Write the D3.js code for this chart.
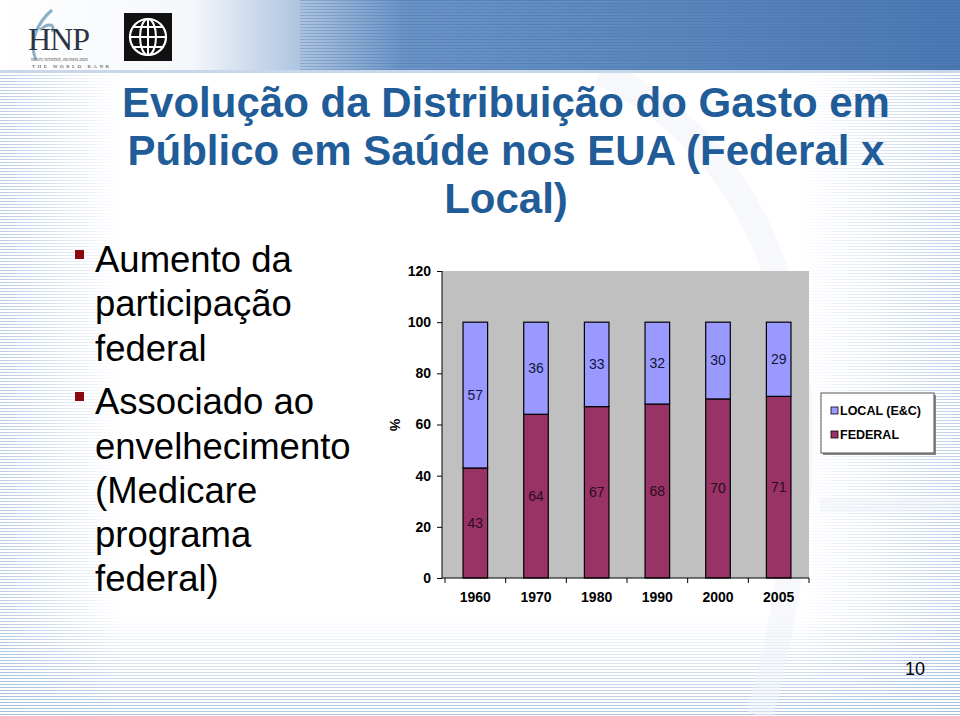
<!DOCTYPE html>
<html><head><meta charset="utf-8">
<script src="https://cdn.jsdelivr.net/npm/d3@7"></script>
<style>body{margin:0;background:#fff}svg{display:block}</style>
</head><body>
<script>
const categories = ["1960","1970","1980","1990","2000","2005"];
const federal = [43,64,67,68,70,71];
const local = [57,36,33,32,30,29];
const yTicks = [0,20,40,60,80,100,120];
const seriesNames = ["LOCAL (E&C)","FEDERAL"];
const titleLines = ["Evolução da Distribuição do Gasto em","Público em Saúde nos EUA (Federal x","Local)"];
const bullets = [["Aumento da","participação","federal"],["Associado ao","envelhecimento","(Medicare","programa","federal)"]];

const W=960,H=716;
const svg=d3.select("body").append("svg").attr("width",W).attr("height",H);
const defs=svg.append("defs");

// stripes pattern
const pat=defs.append("pattern").attr("id","stripes").attr("width",4).attr("height",3).attr("patternUnits","userSpaceOnUse");
pat.append("rect").attr("width",4).attr("height",1).attr("fill","#9fbbe0");
const fadeL=defs.append("linearGradient").attr("id","fadeL").attr("x1",0).attr("x2",1).attr("y1",0).attr("y2",0);
fadeL.append("stop").attr("offset",0).attr("stop-color","#fff").attr("stop-opacity",0.75);
fadeL.append("stop").attr("offset",1).attr("stop-color","#fff").attr("stop-opacity",0);
const maskL=defs.append("mask").attr("id","maskL");
maskL.append("rect").attr("x",0).attr("y",75).attr("width",120).attr("height",H).attr("fill","url(#fadeL)");
const fadeR=defs.append("linearGradient").attr("id","fadeR").attr("x1",0).attr("x2",1);
fadeR.append("stop").attr("offset",0).attr("stop-color","#fff").attr("stop-opacity",0);
fadeR.append("stop").attr("offset",1).attr("stop-color","#fff").attr("stop-opacity",0.7);
const maskR=defs.append("mask").attr("id","maskR");
maskR.append("rect").attr("x",800).attr("y",75).attr("width",160).attr("height",H).attr("fill","url(#fadeR)");
const fadeB=defs.append("linearGradient").attr("id","fadeB").attr("x1",0).attr("x2",0).attr("y1",0).attr("y2",1);
fadeB.append("stop").attr("offset",0).attr("stop-color","#fff").attr("stop-opacity",0);
fadeB.append("stop").attr("offset",1).attr("stop-color","#fff").attr("stop-opacity",0.85);
const maskB=defs.append("mask").attr("id","maskB");
maskB.append("rect").attr("x",0).attr("y",615).attr("width",W).attr("height",101).attr("fill","url(#fadeB)");

svg.append("rect").attr("x",0).attr("y",75).attr("width",120).attr("height",H).attr("fill","url(#stripes)").attr("mask","url(#maskL)");
svg.append("rect").attr("x",800).attr("y",75).attr("width",160).attr("height",H).attr("fill","url(#stripes)").attr("mask","url(#maskR)");
svg.append("rect").attr("x",0).attr("y",615).attr("width",W).attr("height",101).attr("fill","url(#stripes)").attr("mask","url(#maskB)");
// faint arcs watermark
svg.append("path").attr("d","M600,72 C760,150 860,330 760,716").attr("fill","none").attr("stroke","#eef2f8").attr("stroke-width",26).attr("opacity",0.55);
svg.append("path").attr("d","M820,505 L960,505").attr("stroke","#eef2f8").attr("stroke-width",14).attr("opacity",0.5);

// header
const hg=defs.append("linearGradient").attr("id","hdr").attr("x1",0).attr("x2",1);
hg.append("stop").attr("offset",0).attr("stop-color","#ffffff");
hg.append("stop").attr("offset",0.2).attr("stop-color","#f4f7fb");
hg.append("stop").attr("offset",0.42).attr("stop-color","#6a94c6");
hg.append("stop").attr("offset",1).attr("stop-color","#4a78b2");
svg.append("rect").attr("x",0).attr("y",0).attr("width",W).attr("height",72).attr("fill","url(#hdr)");
const pat2=defs.append("pattern").attr("id","hstripes").attr("width",4).attr("height",3).attr("patternUnits","userSpaceOnUse");
pat2.append("rect").attr("width",4).attr("height",1).attr("fill","#3f6ca6").attr("opacity",0.3);
svg.append("rect").attr("x",300).attr("y",0).attr("width",660).attr("height",72).attr("fill","url(#hstripes)");
svg.append("rect").attr("x",0).attr("y",70).attr("width",W).attr("height",3).attr("fill","#c9d7ea");

// HNP logo
const logo=svg.append("g");
logo.append("path").attr("d","M36,60 C28,42 38,22 52,10 M40,30 C48,22 56,24 52,32").attr("fill","none").attr("stroke","#8fb0c4").attr("stroke-width",3);
logo.append("text").attr("x",28).attr("y",50).attr("font-family","Liberation Serif, serif").attr("font-size",32).attr("fill","#2c3446").attr("letter-spacing",-1).text("HNP");
logo.append("text").attr("x",31).attr("y",61).attr("font-size",3).attr("fill","#333").text("HEALTH, NUTRITION, AND POPULATION");
logo.append("text").attr("x",32).attr("y",68).attr("font-family","Liberation Serif, serif").attr("font-size",5).attr("letter-spacing",2.5).attr("fill","#333").text("THE WORLD BANK");
// World Bank logo
const wb=svg.append("g").attr("transform","translate(148,37)");
wb.append("rect").attr("x",-24).attr("y",-24).attr("width",48).attr("height",48).attr("fill","#111");
wb.append("circle").attr("r",18).attr("fill","none").attr("stroke","#fff").attr("stroke-width",2.2);
wb.append("ellipse").attr("rx",8).attr("ry",18).attr("fill","none").attr("stroke","#fff").attr("stroke-width",2);
wb.append("line").attr("x1",0).attr("x2",0).attr("y1",-18).attr("y2",18).attr("stroke","#fff").attr("stroke-width",2);
[-10,0,10].forEach(y=>{const dx=Math.sqrt(324-y*y);wb.append("line").attr("x1",-dx).attr("x2",dx).attr("y1",y).attr("y2",y).attr("stroke","#fff").attr("stroke-width",2);});

const lf="Liberation Sans, Arial, sans-serif";
// title
svg.append("g").selectAll("text").data(titleLines).join("text")
  .attr("x",506).attr("y",(d,i)=>117+i*48).attr("text-anchor","middle")
  .attr("font-family",lf).attr("font-weight","bold").attr("font-size",42)
  .attr("fill","#1f5c98").text(d=>d);

// bullets
let by=[272,316,361,414,459,503,547,591];
let k=0;
bullets.forEach(b=>{
  svg.append("rect").attr("x",75).attr("y",by[k]-22).attr("width",9).attr("height",9).attr("fill","#8b0a10");
  b.forEach(line=>{
    svg.append("text").attr("x",95).attr("y",by[k]).attr("font-family",lf).attr("font-size",36.5).attr("fill","#000").text(line);
    k++;
  });
});

// chart
const x=d3.scaleBand().domain(categories).range([445,809]).paddingInner(0.595).paddingOuter(0.2975);
const y=d3.scaleLinear().domain([0,120]).range([578,271]);
svg.append("rect").attr("x",442).attr("y",y(120)).attr("width",809-442).attr("height",y(0)-y(120)).attr("fill","#c0c0c0");
const data=categories.map((c,i)=>({c,f:federal[i],l:local[i]}));
const g=svg.append("g");
g.selectAll(".fed").data(data).join("rect").attr("x",d=>x(d.c)).attr("width",x.bandwidth())
  .attr("y",d=>y(d.f)).attr("height",d=>y(0)-y(d.f)).attr("fill","#993366").attr("stroke","#000").attr("stroke-width",1.2);
g.selectAll(".loc").data(data).join("rect").attr("x",d=>x(d.c)).attr("width",x.bandwidth())
  .attr("y",d=>y(d.f+d.l)).attr("height",d=>y(d.f)-y(d.f+d.l)).attr("fill","#9999ff").attr("stroke","#000").attr("stroke-width",1.2);
g.selectAll(".lfl").data(data).join("text").attr("x",d=>x(d.c)+x.bandwidth()/2).attr("y",d=>y(d.f/2)).attr("dy","0.35em")
  .attr("text-anchor","middle").attr("font-family",lf).attr("font-size",14).attr("fill","#2a0c1c").text(d=>d.f);
g.selectAll(".lll").data(data).join("text").attr("x",d=>x(d.c)+x.bandwidth()/2).attr("y",d=>y(d.f+d.l/2)).attr("dy","0.35em")
  .attr("text-anchor","middle").attr("font-family",lf).attr("font-size",14).attr("fill","#14143c").text(d=>d.l);

const ya=svg.append("g").attr("transform","translate(442,0)").call(d3.axisLeft(y).tickValues(yTicks).tickSize(5).tickPadding(6));
ya.selectAll("text").attr("font-family",lf).attr("font-weight","bold").attr("font-size",14).attr("fill","#000");
ya.selectAll("line,path").attr("stroke","#000");
ya.select(".domain").attr("d","M0,"+y(120)+"V"+y(0));
const xa=svg.append("g").attr("transform","translate(0,"+y(0)+")").call(d3.axisBottom(x).tickSize(0).tickPadding(14));
xa.select(".domain").attr("d","M442,0H809").attr("stroke","#000");
xa.selectAll("text").attr("font-family",lf).attr("font-weight","bold").attr("font-size",14).attr("fill","#000");
const bounds=categories.map(c=>x(c)-x.step()*x.paddingInner()/2).concat([809]);
xa.selectAll(".bt").data(bounds).join("line").attr("x1",d=>d).attr("x2",d=>d).attr("y1",0).attr("y2",5).attr("stroke","#000");
svg.append("text").attr("transform","translate(395,425) rotate(90)").attr("text-anchor","middle").attr("dy","0.35em")
  .attr("font-family",lf).attr("font-weight","bold").attr("font-size",14).text("%");

// legend
const lg=svg.append("g");
lg.append("rect").attr("x",823).attr("y",395).attr("width",113).attr("height",60).attr("fill","#888");
lg.append("rect").attr("x",821).attr("y",393).attr("width",113).attr("height",60).attr("fill","#fff").attr("stroke","#555");
const cols=["#9999ff","#993366"];
seriesNames.forEach((s,i)=>{
  lg.append("rect").attr("x",831).attr("y",407+i*24).attr("width",7).attr("height",7).attr("fill",cols[i]).attr("stroke","#000").attr("stroke-width",0.8);
  lg.append("text").attr("x",840).attr("y",411+i*24).attr("dy","0.35em").attr("font-family",lf).attr("font-weight","bold").attr("font-size",12.5).attr("fill","#000").text(s);
});

// page number
svg.append("text").attr("x",925).attr("y",675).attr("text-anchor","end").attr("font-family","Liberation Sans Narrow, Liberation Sans, sans-serif").attr("font-size",18).attr("fill","#000").text("10");
</script>
</body></html>
